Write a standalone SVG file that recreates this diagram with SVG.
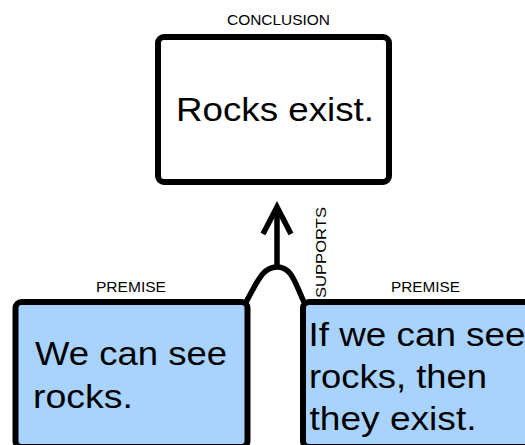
<svg xmlns="http://www.w3.org/2000/svg" width="525" height="445" viewBox="0 0 525 445">
<style>
.box{stroke:#000;stroke-width:6;}
.big{font-family:"Liberation Sans",Arial,sans-serif;font-size:34px;fill:#000;}
.lbl{font-family:"Liberation Sans",Arial,sans-serif;font-size:14px;fill:#000;text-anchor:middle;}
.conn{fill:none;stroke:#000;stroke-width:5.5;}
</style>
<rect width="525" height="445" fill="#fff"/>
<g id="conclusion">
<text class="lbl" x="278.5" y="25" textLength="103" lengthAdjust="spacingAndGlyphs">CONCLUSION</text>
<rect class="box" x="158" y="37" width="231" height="145" rx="6" fill="#fff"/>
<text class="big" x="176" y="121" textLength="198" lengthAdjust="spacingAndGlyphs">Rocks exist.</text>
</g>
<g id="premise1">
<text class="lbl" x="131" y="292" textLength="70" lengthAdjust="spacingAndGlyphs">PREMISE</text>
<rect class="box" x="15.5" y="302" width="232" height="145" rx="6" fill="#a8d3ff"/>
<text class="big" x="35" y="365" textLength="192" lengthAdjust="spacingAndGlyphs">We can see</text>
<text class="big" x="33" y="408" textLength="100" lengthAdjust="spacingAndGlyphs">rocks.</text>
</g>
<g id="premise2">
<text class="lbl" x="425.5" y="292" textLength="69" lengthAdjust="spacingAndGlyphs">PREMISE</text>
<rect class="box" x="303" y="302" width="300" height="145" rx="6" fill="#a8d3ff"/>
<text class="big" x="308.5" y="346" textLength="217" lengthAdjust="spacingAndGlyphs">If we can see</text>
<text class="big" x="309" y="388" textLength="178" lengthAdjust="spacingAndGlyphs">rocks, then</text>
<text class="big" x="309.5" y="430" textLength="167" lengthAdjust="spacingAndGlyphs">they exist.</text>
</g>
<g id="connectors">
<path class="conn" d="M246,302 C257,283 262,267 277,267 C292,267 295,283 304,302"/>
<path class="conn" d="M277,267 L277,208"/>
<path class="conn" d="M263,234 L277,207 L291,234" stroke-linejoin="miter"/>
<text class="lbl" transform="translate(326,252.5) rotate(-90)" textLength="91" lengthAdjust="spacingAndGlyphs">SUPPORTS</text>
</g>
</svg>
